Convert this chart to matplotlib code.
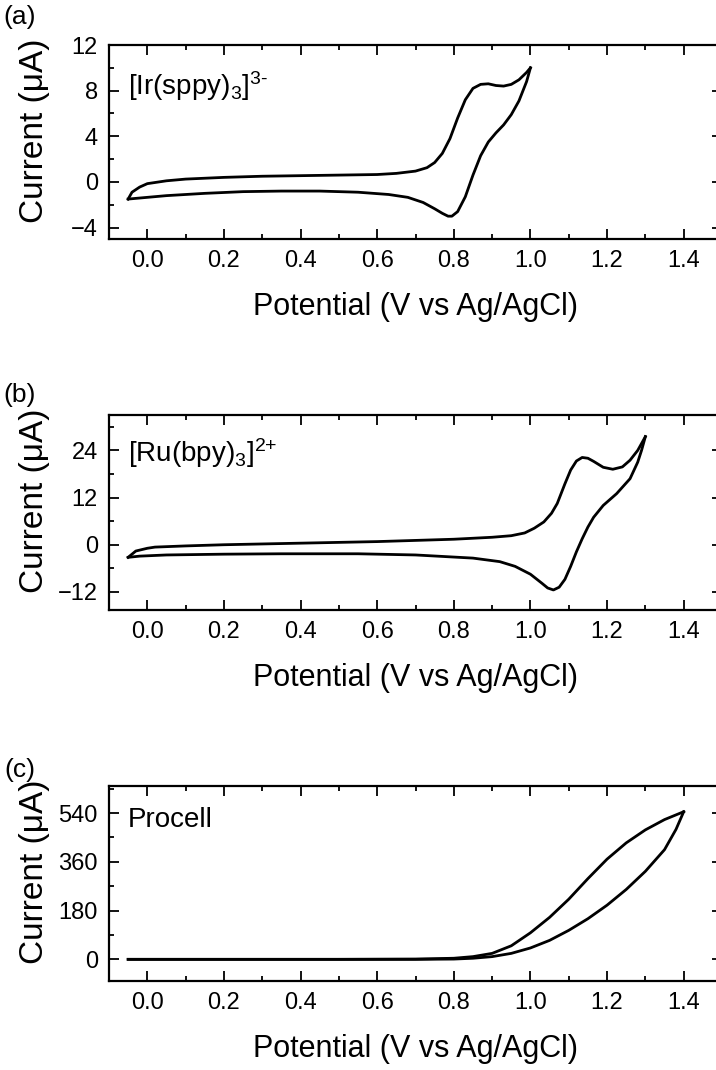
import matplotlib
matplotlib.use("Agg")
import matplotlib.pyplot as plt
from matplotlib.ticker import MultipleLocator

plt.rcParams["font.family"] = ["Liberation Sans", "DejaVu Sans"]
plt.rcParams["mathtext.fontset"] = "custom"
plt.rcParams["mathtext.rm"] = "Liberation Sans"
plt.rcParams["mathtext.it"] = "Liberation Sans:italic"
plt.rcParams["mathtext.bf"] = "Liberation Sans:bold"

# (a) [Ir(sppy)3]3-  -- anodic sweep then cathodic sweep
a_fwd_x = [-0.05, -0.04, -0.02, 0.0, 0.05, 0.1, 0.2, 0.3, 0.4, 0.5, 0.6, 0.65, 0.7, 0.73, 0.75,
           0.77, 0.79, 0.81, 0.83, 0.85, 0.87, 0.89, 0.91, 0.93, 0.95, 0.97, 0.99, 1.0]
a_fwd_y = [-1.5, -0.9, -0.45, -0.15, 0.1, 0.25, 0.4, 0.5, 0.55, 0.6, 0.65, 0.75, 0.95, 1.25, 1.7,
           2.5, 3.8, 5.6, 7.2, 8.2, 8.55, 8.6, 8.45, 8.4, 8.55, 8.95, 9.6, 10.0]
a_rev_x = [1.0, 0.99, 0.97, 0.95, 0.93, 0.91, 0.89, 0.87, 0.85, 0.83, 0.81, 0.795, 0.785, 0.77,
           0.75, 0.72, 0.68, 0.63, 0.55, 0.45, 0.35, 0.25, 0.15, 0.05, -0.05]
a_rev_y = [10.0, 8.8, 7.1, 5.9, 5.0, 4.3, 3.5, 2.3, 0.6, -1.3, -2.6, -3.0, -3.0, -2.75,
           -2.35, -1.8, -1.35, -1.1, -0.9, -0.8, -0.8, -0.85, -1.0, -1.2, -1.5]

# (b) [Ru(bpy)3]2+
b_fwd_x = [-0.05, -0.03, 0.0, 0.02, 0.1, 0.2, 0.4, 0.6, 0.8, 0.9, 0.95, 0.985, 1.01, 1.035,
           1.055, 1.07, 1.09, 1.105, 1.12, 1.135, 1.15, 1.165, 1.19, 1.215, 1.24, 1.26, 1.28, 1.3]
b_fwd_y = [-3.2, -1.6, -0.9, -0.6, -0.3, 0.0, 0.4, 0.8, 1.4, 1.9, 2.3, 3.0, 4.2, 5.8,
           8.0, 10.5, 15.5, 19.0, 21.3, 22.2, 22.0, 21.2, 19.7, 19.2, 19.8, 21.5, 24.0, 27.5]
b_rev_x = [1.3, 1.29, 1.28, 1.26, 1.225, 1.19, 1.165, 1.15, 1.135, 1.12, 1.105, 1.09, 1.075,
           1.06, 1.045, 1.03, 1.0, 0.96, 0.92, 0.85, 0.7, 0.55, 0.35, 0.2, 0.05, -0.02, -0.05]
b_rev_y = [27.5, 24.0, 21.0, 16.8, 13.0, 10.0, 7.0, 4.5, 1.5, -1.8, -5.5, -8.8, -10.8,
           -11.5, -11.0, -9.8, -7.5, -5.5, -4.3, -3.4, -2.6, -2.3, -2.3, -2.4, -2.6, -2.9, -3.2]

# (c) Procell blank
c_fwd_x = [-0.05, 0.2, 0.5, 0.7, 0.8, 0.85, 0.9, 0.95, 1.0, 1.05, 1.1, 1.15, 1.2, 1.25,
           1.3, 1.35, 1.4]
c_fwd_y = [0, 0, 0, 1, 4, 10, 22, 50, 98, 155, 222, 298, 370, 430, 478, 516, 545]
c_rev_x = [1.4, 1.38, 1.35, 1.3, 1.25, 1.2, 1.15, 1.1, 1.05, 1.0, 0.95, 0.9, 0.85, 0.8,
           0.7, 0.5, 0.2, -0.05]
c_rev_y = [545, 480, 405, 325, 258, 200, 150, 107, 70, 42, 22, 10, 4, 1, 0, 0, 0, 0]

tags = ["(a)", "(b)", "(c)"]
names = [r"[Ir(sppy)$_3$]$^{\text{3-}}$", r"[Ru(bpy)$_3$]$^{\text{2+}}$", "Procell"]
curves = [(a_fwd_x, a_fwd_y, a_rev_x, a_rev_y),
          (b_fwd_x, b_fwd_y, b_rev_x, b_rev_y),
          (c_fwd_x, c_fwd_y, c_rev_x, c_rev_y)]
ylims = [(-5, 12), (-16.6, 33), (-80, 640)]
y_major = [4, 12, 180]
y_minor = [2, 6, 90]

W, H = 716, 1070
fig = plt.figure(figsize=(W / 100, H / 100), dpi=100)

# axes boxes in pixels: (top, bottom)
boxes = [(45, 239), (415, 610), (786, 981)]
tag_y = [17, 395, 770]
text_base = [0.742, 0.757, 0.79]
left_px, right_px = 109, 722

for i in range(3):
    top, bot = boxes[i]
    fx, fy, rx, ry = curves[i]
    ax = fig.add_axes([left_px / W, 1 - bot / H, (right_px - left_px) / W, (bot - top) / H])
    ax.plot(fx, fy, color="black", lw=2.0, solid_joinstyle="round")
    ax.plot(rx, ry, color="black", lw=2.0, solid_joinstyle="round")

    ax.set_xlim(-0.1, 1.5)
    ax.set_ylim(*ylims[i])
    ax.xaxis.set_major_locator(MultipleLocator(0.2))
    ax.xaxis.set_minor_locator(MultipleLocator(0.1))
    ax.yaxis.set_major_locator(MultipleLocator(y_major[i]))
    ax.yaxis.set_minor_locator(MultipleLocator(y_minor[i]))
    ax.xaxis.set_major_formatter(plt.FormatStrFormatter("%.1f"))

    ax.tick_params(which="both", direction="in", top=True, right=True, width=1.3,
                   labelsize=17, pad=8)
    ax.tick_params(which="major", length=7.5)
    ax.tick_params(which="minor", length=3.8)
    for s in ax.spines.values():
        s.set_linewidth(1.6)

    ax.set_xlabel("Potential (V vs Ag/AgCl)", fontsize=22, labelpad=14)
    ax.set_ylabel("Current (\u03bcA)", fontsize=24)
    ax.yaxis.set_label_coords(-0.097, 0.56)

    ax.text(0.031, text_base[i], names[i], transform=ax.transAxes, fontsize=20,
            ha="left", va="baseline")
    fig.text(20 / W, 1 - tag_y[i] / H, tags[i], fontsize=19, ha="center", va="center")

fig.savefig("out.png", dpi=100)
